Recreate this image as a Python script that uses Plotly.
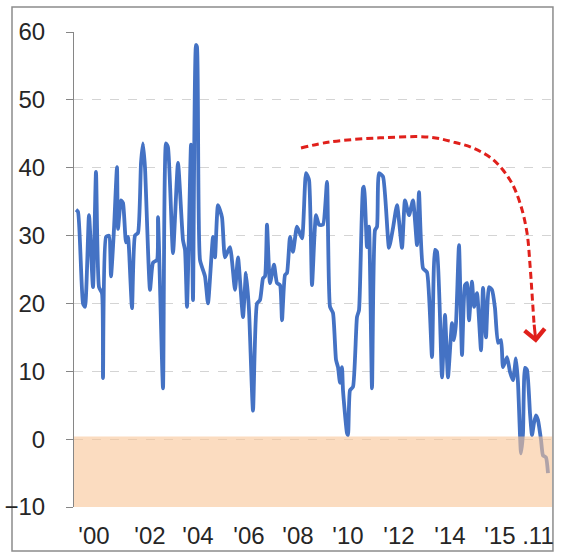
import plotly.graph_objects as go

# ---- data ----
dates = [
    1999.00, 1999.08, 1999.28, 1999.36, 1999.52, 1999.68, 1999.80, 1999.92, 2000.04, 2000.08,
    2000.20, 2000.32, 2000.40, 2000.52, 2000.64, 2000.68, 2000.80, 2000.88, 2001.00, 2001.08,
    2001.12, 2001.24, 2001.36, 2001.48, 2001.60, 2001.68, 2001.76, 2001.96, 2002.08, 2002.24,
    2002.28, 2002.48, 2002.60, 2002.68, 2002.88, 2003.08, 2003.28, 2003.36, 2003.44, 2003.60,
    2003.68, 2003.80, 2003.84, 2003.96, 2004.16, 2004.28, 2004.48, 2004.56, 2004.68, 2004.84,
    2004.96, 2005.16, 2005.36, 2005.48, 2005.68, 2005.80, 2005.92, 2006.08, 2006.24, 2006.36,
    2006.48, 2006.56, 2006.64, 2006.76, 2006.92, 2007.04, 2007.16, 2007.24, 2007.36, 2007.44,
    2007.56, 2007.68, 2007.84, 2008.04, 2008.20, 2008.32, 2008.44, 2008.60, 2008.72, 2008.88,
    2009.04, 2009.16, 2009.28, 2009.40, 2009.48, 2009.56, 2009.64, 2009.68, 2009.84, 2009.88,
    2009.96, 2010.08, 2010.24, 2010.32, 2010.48, 2010.52, 2010.64, 2010.72, 2010.84, 2010.96,
    2011.04, 2011.12, 2011.28, 2011.52, 2011.68, 2011.84, 2012.04, 2012.16, 2012.32, 2012.48,
    2012.64, 2012.72, 2012.88, 2013.04, 2013.24, 2013.36, 2013.44, 2013.64, 2013.76, 2013.88,
    2014.04, 2014.12, 2014.20, 2014.32, 2014.44, 2014.56, 2014.64, 2014.72, 2014.84, 2014.92,
    2015.04, 2015.20, 2015.28, 2015.40, 2015.52, 2015.64, 2015.76, 2015.88, 2016.00, 2016.08,
    2016.24, 2016.36, 2016.48, 2016.60, 2016.68, 2016.80, 2016.88, 2016.96, 2017.04, 2017.16,
    2017.24, 2017.32, 2017.40, 2017.48, 2017.60, 2017.68, 2017.80, 2017.88,
]
values = [
    33.8, 33.5, 20.0, 19.5, 33.0, 22.4, 39.4, 22.4, 21.5, 9.0,
    29.8, 30.0, 24.0, 31.0, 40.1, 31.0, 35.2, 34.8, 29.0, 29.8,
    28.0, 19.3, 30.0, 30.4, 40.7, 43.6, 40.0, 22.0, 26.0, 26.4,
    32.7, 7.5, 43.6, 43.0, 27.4, 40.7, 29.3, 27.9, 19.5, 43.4,
    20.5, 58.1, 57.8, 26.4, 24.0, 20.0, 29.8, 26.8, 34.5, 32.7,
    26.8, 28.3, 22.0, 26.8, 18.0, 24.5, 19.0, 4.2, 20.0, 20.5,
    23.7, 24.0, 31.6, 23.0, 25.7, 23.0, 22.7, 17.5, 24.2, 24.5,
    29.8, 27.6, 31.3, 29.6, 39.2, 38.2, 22.7, 33.0, 31.6, 31.6,
    37.9, 19.5, 18.6, 11.7, 10.6, 8.3, 10.6, 7.2, 0.9, 0.6,
    7.2, 7.7, 18.0, 19.0, 37.0, 37.2, 28.3, 31.3, 7.5, 30.8,
    31.3, 39.2, 38.7, 28.2, 31.1, 34.5, 28.2, 35.2, 33.0, 35.2,
    28.6, 36.4, 25.2, 24.6, 12.1, 27.9, 27.6, 9.1, 18.3, 9.1,
    17.1, 14.6, 17.1, 28.6, 12.4, 22.7, 23.0, 17.5, 23.2, 19.5,
    21.5, 13.1, 22.3, 15.0, 22.4, 22.0, 19.3, 14.2, 14.6, 10.6,
    12.1, 9.9, 8.7, 11.9, 8.3, -2.1, 0.9, 10.5, 10.2, 3.8,
    0.6, 2.4, 3.5, 2.8, -0.1, -2.4, -2.7, -5.0,
]

tick_positions = [1999.72, 2001.96, 2003.88, 2005.92, 2007.88, 2009.88, 2011.92, 2013.96, 2015.96, 2017.48]
tick_labels = ["'00", "'02", "'04", "'06", "'08", "'10", "'12", "'14", "'15", ".11"]
y_ticks = [-10, 0, 10, 20, 30, 40, 50, 60]

# red trend arrow path
arrow_x = [2008.00, 2009.16, 2011.16, 2013.16, 2014.08, 2014.88, 2015.68, 2016.36, 2016.76,
           2017.04, 2017.16, 2017.24, 2017.32, 2017.40]
arrow_y = [42.9, 43.8, 44.4, 44.5, 43.8, 42.9, 41.2, 38.2, 34.8, 30.4, 25.7, 21.5, 17.1, 14.2]

shade_low, shade_high = -10, 0.4

FONT = "Liberation Sans Narrow, Arial Narrow, Liberation Sans, sans-serif"

fig = go.Figure()

fig.add_trace(go.Scatter(
    x=dates, y=values, mode="lines",
    line=dict(color="#4472C4", width=3.8, shape="spline", smoothing=0.5),
    hoverinfo="skip", showlegend=False,
))

fig.add_trace(go.Scatter(
    x=arrow_x[:-1], y=arrow_y[:-1], mode="lines",
    line=dict(color="#E0201B", width=3, dash="7px,4px", shape="spline", smoothing=1.0),
    hoverinfo="skip", showlegend=False,
))

fig.add_annotation(
    x=arrow_x[-1], y=arrow_y[-1], ax=arrow_x[-2], ay=arrow_y[-2],
    xref="x", yref="y", axref="x", ayref="y",
    showarrow=True, arrowhead=4, arrowsize=1.3, arrowwidth=3, arrowcolor="#E0201B", text="",
)

# shaded negative zone, drawn over the line like the reference
fig.add_shape(type="rect", xref="paper", yref="y", x0=0, x1=1, y0=shade_low, y1=shade_high,
              fillcolor="rgba(248,196,150,0.6)", line=dict(width=0), layer="above")

# outer frame
fig.add_shape(type="rect", xref="paper", yref="paper", x0=-0.1297, x1=1.002, y0=-0.0926, y1=1.0526,
              line=dict(color="#8c8c8c", width=1.5), fillcolor="rgba(0,0,0,0)", layer="below")

fig.update_layout(
    width=561, height=553,
    margin=dict(l=74, r=9, t=32, b=46, autoexpand=False),
    paper_bgcolor="white", plot_bgcolor="white",
    font=dict(family=FONT, size=24, color="#262626"),
    showlegend=False,
)

fig.update_xaxes(
    range=[1998.92, 2018.04], tickvals=tick_positions, ticktext=tick_labels,
    showgrid=False, zeroline=False, showline=False, ticks="", ticklabelstandoff=12,
    tickfont=dict(family=FONT, size=24, color="#262626"), automargin=False,
)
fig.update_yaxes(
    range=[-10, 60], tickvals=y_ticks, showgrid=True, gridcolor="#d4d4d4", griddash="dash", gridwidth=1,
    zeroline=False, showline=True, linecolor="#868686", linewidth=1,
    ticks="outside", ticklen=7, tickcolor="#868686", ticklabelstandoff=16,
    tickfont=dict(family=FONT, size=24, color="#262626"), automargin=False,
)

fig.write_html(
    "out.html",
    config={"displayModeBar": False},
    post_script="document.body.style.margin='0';document.body.style.overflow='hidden';",
)
